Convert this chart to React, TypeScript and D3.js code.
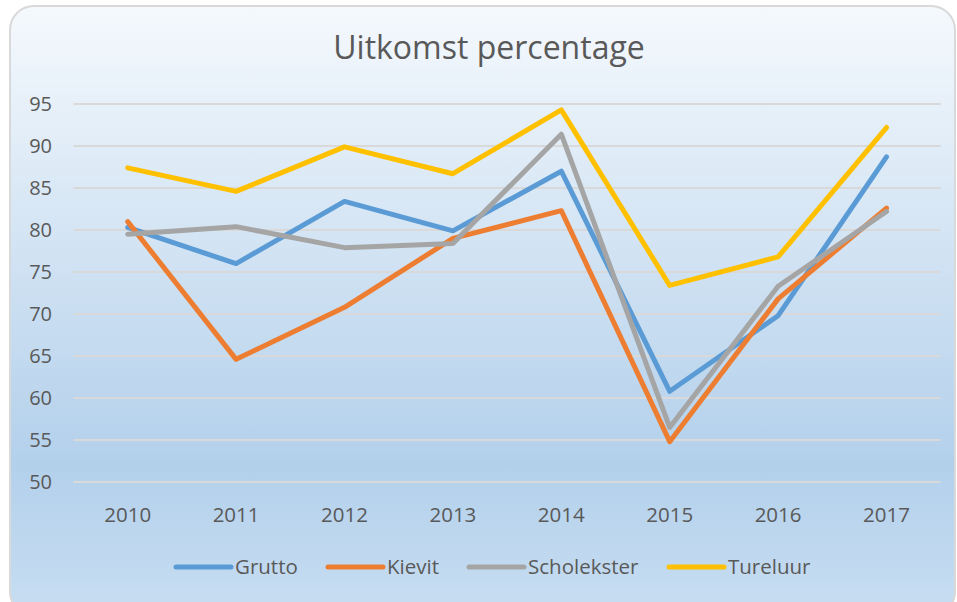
import { useEffect, useRef } from "react";
import * as d3 from "d3";

const years = ["2010", "2011", "2012", "2013", "2014", "2015", "2016", "2017"];
const grutto = [80.3, 76.0, 83.4, 79.9, 87.0, 60.8, 69.8, 88.7];
const kievit = [81.0, 64.6, 70.8, 79.0, 82.3, 54.8, 71.8, 82.6];
const scholekster = [79.5, 80.4, 77.9, 78.4, 91.4, 56.5, 73.3, 82.2];
const tureluur = [87.4, 84.6, 89.9, 86.7, 94.3, 73.4, 76.8, 92.2];
const yTicks = [50, 55, 60, 65, 70, 75, 80, 85, 90, 95];

const series = [
  { name: "Grutto", values: grutto, color: "#5B9BD5" },
  { name: "Kievit", values: kievit, color: "#ED7D31" },
  { name: "Scholekster", values: scholekster, color: "#A5A5A5" },
  { name: "Tureluur", values: tureluur, color: "#FFC000" }
];

const App = () => {
  const svgRef = useRef<SVGSVGElement | null>(null);

  useEffect(() => {
    const svg = d3.select(svgRef.current);
    svg.selectAll("*").remove();

    const width = 957;
    const height = 602;
    const margin = { top: 104, right: 16, bottom: 120, left: 73.5 };
    const font = "'Open Sans', sans-serif";
    const textColor = "#595959";

    svg.attr("width", width).attr("height", height);

    // achtergrond
    const grad = svg.append("defs").append("linearGradient")
      .attr("id", "bg").attr("x1", 0).attr("y1", 0).attr("x2", 0).attr("y2", 1);
    grad.append("stop").attr("offset", "0%").attr("stop-color", "#F5F9FD");
    grad.append("stop").attr("offset", "75%").attr("stop-color", "#B3D0EB");
    grad.append("stop").attr("offset", "100%").attr("stop-color", "#C8DEF2");

    svg.append("rect")
      .attr("x", 10).attr("y", 6)
      .attr("width", 945).attr("height", 610)
      .attr("rx", 24).attr("ry", 24)
      .attr("fill", "url(#bg)")
      .attr("stroke", "#D9D9D9")
      .attr("stroke-width", 2);

    svg.append("text")
      .attr("x", 489).attr("y", 59)
      .attr("text-anchor", "middle")
      .attr("font-family", font)
      .attr("font-size", 32)
      .attr("fill", textColor)
      .text("Uitkomst percentage");

    const x = d3.scaleBand<string>()
      .domain(years)
      .range([margin.left, 940.7]);

    const y = d3.scaleLinear()
      .domain([50, 95])
      .range([482, margin.top]);

    // rasterlijnen
    svg.append("g")
      .selectAll("line")
      .data(yTicks)
      .enter()
      .append("line")
      .attr("x1", margin.left).attr("x2", 940.7)
      .attr("y1", d => y(d)).attr("y2", d => y(d))
      .attr("stroke", "#D9D9D9")
      .attr("stroke-width", 2);

    // as-labels
    svg.append("g")
      .selectAll("text")
      .data(yTicks)
      .enter()
      .append("text")
      .attr("x", 52)
      .attr("y", d => y(d))
      .attr("dy", "0.36em")
      .attr("text-anchor", "end")
      .attr("font-family", font)
      .attr("font-size", 20)
      .attr("fill", textColor)
      .text(d => d);

    svg.append("g")
      .selectAll("text")
      .data(years)
      .enter()
      .append("text")
      .attr("x", d => (x(d) ?? 0) + x.bandwidth() / 2)
      .attr("y", 522)
      .attr("text-anchor", "middle")
      .attr("font-family", font)
      .attr("font-size", 20.5)
      .attr("fill", textColor)
      .text(d => d);

    // lijnen
    const line = d3.line<number>()
      .x((_, i) => (x(years[i]) ?? 0) + x.bandwidth() / 2)
      .y(d => y(d));

    svg.append("g")
      .selectAll("path")
      .data(series)
      .enter()
      .append("path")
      .attr("d", d => line(d.values))
      .attr("fill", "none")
      .attr("stroke", d => d.color)
      .attr("stroke-width", 5)
      .attr("stroke-linejoin", "round")
      .attr("stroke-linecap", "round");

    // legenda
    const legendX = [176, 328, 469, 669];
    const legend = svg.append("g")
      .selectAll("g")
      .data(series)
      .enter()
      .append("g")
      .attr("transform", (_, i) => `translate(${legendX[i]}, 567)`);

    legend.append("line")
      .attr("x1", 0).attr("x2", 55)
      .attr("stroke", d => d.color)
      .attr("stroke-width", 5)
      .attr("stroke-linecap", "round");

    legend.append("text")
      .attr("x", 59)
      .attr("dy", "0.36em")
      .attr("font-family", font)
      .attr("font-size", 20.5)
      .attr("fill", textColor)
      .text(d => d.name);
  }, []);

  return (
    <svg ref={svgRef} style={{ position: "absolute", left: 0, top: 0 }}></svg>
  );
};

export default App;
